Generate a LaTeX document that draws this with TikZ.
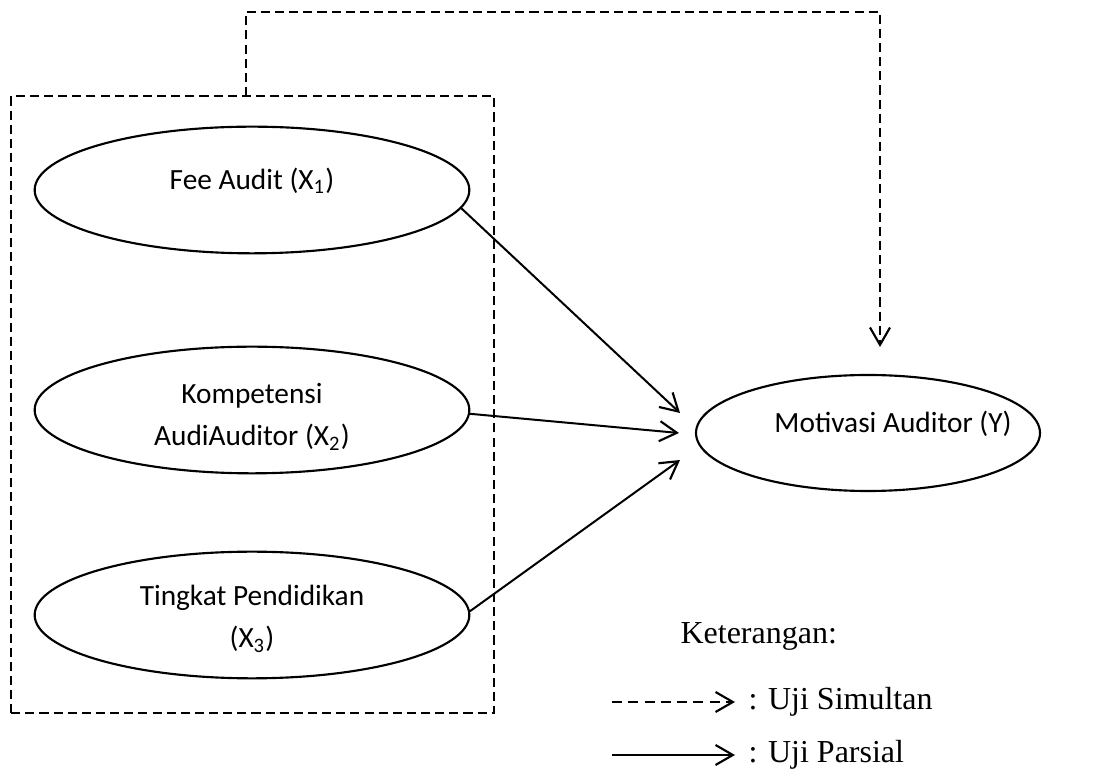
\documentclass[tikz,border=0pt]{standalone}
\usepackage{fontspec}
\setmainfont{Liberation Serif}
\newfontfamily\calibri{Carlito}
\usetikzlibrary{arrows.meta,shapes.geometric}
\tikzset{
  ell/.style={draw, ellipse, line width=0.8pt, inner sep=0pt,
    minimum width=163pt, minimum height=47.5pt},
  lbl/.style={font=\calibri\fontsize{11}{15.8}\selectfont, inner sep=0pt, align=center},
  leg/.style={font=\fontsize{12}{14}\selectfont, inner sep=0pt, anchor=west},
  tip/.style={-{Straight Barb[length=6.5pt,width=7.5pt,line width=0.8pt]}},
  solid line/.style={line width=0.75pt},
  dash line/.style={line width=0.75pt, dash pattern=on 3.4pt off 1.9pt},
  legdash/.style={line width=0.75pt, dash pattern=on 3.8pt off 2.3pt}
}
\begin{document}
\begin{tikzpicture}[x=0.375pt,y=-0.375pt]
\useasboundingbox (0,0) rectangle (1095,782);
% dashed frame
\node[draw, dash line, minimum width=181pt, minimum height=231.4pt, inner sep=0pt] (box) at (252.5,404.5) {};
% ellipses
\node[ell] (e1) at (252,190) {};
\node[lbl] (t1) at (252,181) {Fee Audit (X\textsubscript{1})};
\node[ell] (e2) at (252,410) {};
\node[lbl] (t2) at (252,417) {Kompetensi\\AudiAuditor (X\textsubscript{2})};
\node[ell] (e3) at (252,615) {};
\node[lbl] (t3) at (252,619) {Tingkat Pendidikan\\(X\textsubscript{3})};
\node[ell, minimum width=129pt, minimum height=43.5pt] (ey) at (868,433) {};
\node[lbl] (ty) at (893,424) {Motivasi Auditor (Y)};
% arrow ends
\coordinate (a1) at (680,413);
\coordinate (a2) at (679,433);
\coordinate (a3) at (680,460);
\draw[solid line, tip] (e1.-5.5) -- (a1);
\draw[solid line, tip] (e2.-1) -- (a2);
\draw[solid line, tip] (e3.1) -- (a3);
% simultaneous path
\coordinate (top) at (246,96);
\coordinate (ytip) at (880,347);
\draw[dash line, tip] (top) -- ++(0,-84) -| (ytip);
% legend
\node[leg] (ket) at (680,636) {Keterangan:};
\coordinate (s1) at (612,702);
\coordinate (s2) at (735,702);
\draw[legdash, tip] (s1) -- (s2);
\node[leg] (us) at (748,702) {: Uji Simultan};
\coordinate (p1) at (612,755);
\coordinate (p2) at (735,755);
\draw[solid line, tip] (p1) -- (p2);
\node[leg] (up) at (748,755) {: Uji Parsial};
\end{tikzpicture}
\end{document}
